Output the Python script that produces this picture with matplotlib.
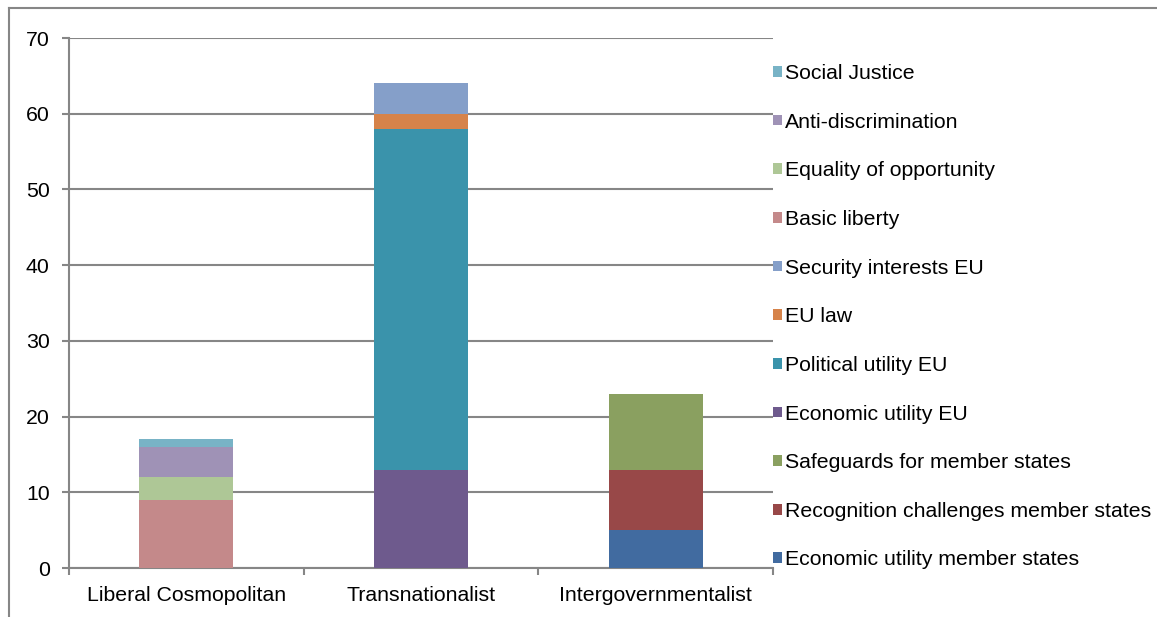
import matplotlib.pyplot as plt
from matplotlib.lines import Line2D
import numpy as np

plt.rcParams['font.family'] = ['Liberation Sans', 'DejaVu Sans']

categories = ['Liberal Cosmopolitan', 'Transnationalist', 'Intergovernmentalist']

# series in stacking order (bottom -> top)
series = [
    'Economic utility member states',
    'Recognition challenges member states',
    'Safeguards for member states',
    'Economic utility EU',
    'Political utility EU',
    'EU law',
    'Security interests EU',
    'Basic liberty',
    'Equality of opportunity',
    'Anti-discrimination',
    'Social Justice',
]
econ_member = [0, 0, 5]
recognition = [0, 0, 8]
safeguards = [0, 0, 10]
econ_eu = [0, 13, 0]
political_eu = [0, 45, 0]
eu_law = [0, 2, 0]
security_eu = [0, 4, 0]
basic_liberty = [9, 0, 0]
equality = [3, 0, 0]
anti_discrimination = [4, 0, 0]
social_justice = [1, 0, 0]

values = [econ_member, recognition, safeguards, econ_eu, political_eu, eu_law,
          security_eu, basic_liberty, equality, anti_discrimination, social_justice]
colors = ['#416BA0', '#984848', '#8AA060', '#6E5A8D', '#3A93AB', '#D6834A',
          '#859FC9', '#C4898A', '#AEC796', '#9F92B6', '#78B3C6']

fs = 15.3
fig = plt.figure(figsize=(11.57, 6.17), dpi=100)
ax = fig.add_axes([69 / 1157, 1 - 568 / 617, (773 - 69) / 1157, (568 - 38) / 617])

x = np.arange(len(categories))
bottom = np.zeros(len(categories))
handles = []
for name, vals, c in zip(series, values, colors):
    b = ax.bar(x, vals, width=0.4, bottom=bottom, color=c, label=name, zorder=3)
    handles.append(b)
    bottom += np.array(vals)

grid_c = '#868686'
ax.set_xlim(-0.5, 2.5)
ax.set_ylim(0, 70)
ax.set_yticks(range(0, 71, 10))
ax.yaxis.grid(True, color=grid_c, linewidth=1.5, zorder=0)
ax.set_xticks(x)
ax.set_xticklabels(categories, fontsize=fs)
ax.set_xticks([-0.5, 0.5, 1.5, 2.5], minor=True)
ax.tick_params(axis='x', which='major', length=0, pad=13)
ax.tick_params(axis='x', which='minor', length=5, width=1.5, color=grid_c, direction='out')
ax.tick_params(axis='y', length=5, width=1.5, color=grid_c, labelsize=fs, pad=9)
for s in ['top', 'right']:
    ax.spines[s].set_visible(False)
for s in ['left', 'bottom']:
    ax.spines[s].set_color(grid_c)
    ax.spines[s].set_linewidth(1.5)

leg = fig.legend(handles[::-1], series[::-1], loc='upper left',
                 bbox_to_anchor=(773 / 1157, 1 - 64 / 617), frameon=False,
                 fontsize=fs, handlelength=0.4, handleheight=0.4,
                 handletextpad=0.18, labelspacing=1.395, borderpad=0,
                 borderaxespad=0)

# outer chart frame (partially visible)
fig.add_artist(Line2D([9 / 1157, 1], [1 - 8 / 617, 1 - 8 / 617], color=grid_c, lw=1.5))
fig.add_artist(Line2D([9 / 1157, 9 / 1157], [0, 1 - 8 / 617], color=grid_c, lw=1.5))

fig.savefig('out.png', dpi=100)
